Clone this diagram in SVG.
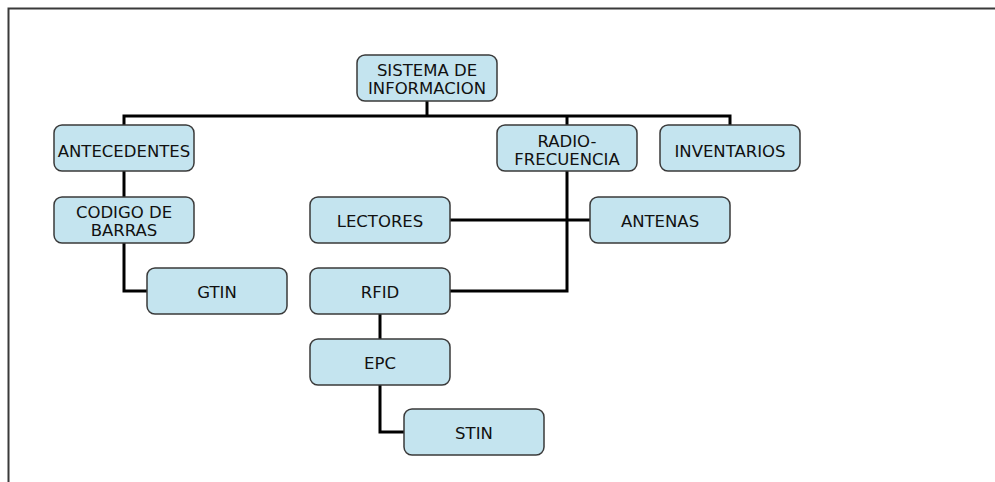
<svg xmlns="http://www.w3.org/2000/svg" width="995" height="482" viewBox="0 0 995 482">
<style>
.n rect{fill:#c4e4ef;stroke:#3a3a3a;stroke-width:1.5}
.n text{font-family:"DejaVu Sans",Verdana,sans-serif;font-size:16.5px;fill:#111;text-anchor:middle}
#connectors path{fill:none;stroke:#000;stroke-width:3}
</style>
<rect x="0" y="0" width="995" height="482" fill="#fff"/>
<path d="M8.5 482 V8.5 H995" fill="none" stroke="#3a3a3a" stroke-width="2"/>
<g id="connectors">
<path d="M427 101 V116"/>
<path d="M124 125 V116 H730 V125"/>
<path d="M567 116 V125"/>
<path d="M124 171 V197"/>
<path d="M124 243 V291 H147"/>
<path d="M567 171 V291 H450"/>
<path d="M450 220 H590"/>
<path d="M380 314 V339"/>
<path d="M380 385 V432 H404"/>
</g>
<g id="n-sistema" class="n"><rect x="357" y="55" width="140" height="46" rx="8"/><text x="427" y="76">SISTEMA DE</text><text x="427" y="94">INFORMACION</text></g>
<g id="n-antecedentes" class="n"><rect x="54" y="125" width="140" height="46" rx="8"/><text x="124" y="157">ANTECEDENTES</text></g>
<g id="n-radio" class="n"><rect x="497" y="125" width="140" height="46" rx="8"/><text x="567" y="147">RADIO-</text><text x="567" y="165">FRECUENCIA</text></g>
<g id="n-inventarios" class="n"><rect x="660" y="125" width="140" height="46" rx="8"/><text x="730" y="157">INVENTARIOS</text></g>
<g id="n-codigo" class="n"><rect x="54" y="197" width="140" height="46" rx="8"/><text x="124" y="218">CODIGO DE</text><text x="124" y="236">BARRAS</text></g>
<g id="n-lectores" class="n"><rect x="310" y="197" width="140" height="46" rx="8"/><text x="380" y="227">LECTORES</text></g>
<g id="n-antenas" class="n"><rect x="590" y="197" width="140" height="46" rx="8"/><text x="660" y="227">ANTENAS</text></g>
<g id="n-gtin" class="n"><rect x="147" y="268" width="140" height="46" rx="8"/><text x="217" y="298">GTIN</text></g>
<g id="n-rfid" class="n"><rect x="310" y="268" width="140" height="46" rx="8"/><text x="380" y="298">RFID</text></g>
<g id="n-epc" class="n"><rect x="310" y="339" width="140" height="46" rx="8"/><text x="380" y="369">EPC</text></g>
<g id="n-stin" class="n"><rect x="404" y="409" width="140" height="46" rx="8"/><text x="474" y="439">STIN</text></g>
</svg>
